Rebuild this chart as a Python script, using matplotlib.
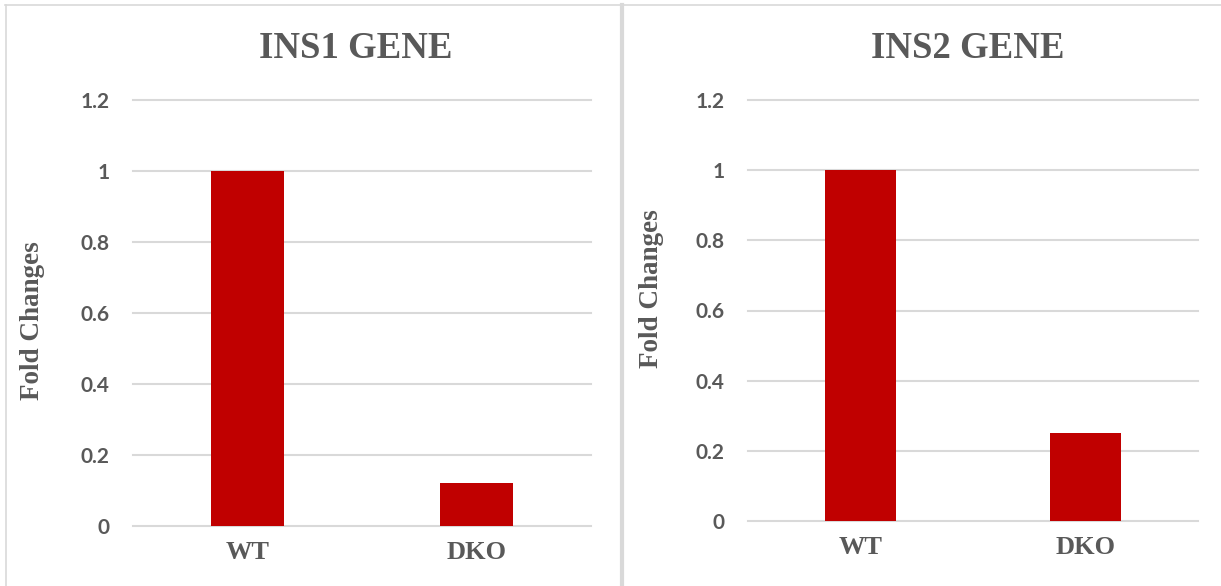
import matplotlib.pyplot as plt
from matplotlib.lines import Line2D

groups = ['WT', 'DKO']
ins1_fold = [1.0, 0.12]
ins2_fold = [1.0, 0.25]
titles = ['INS1 GENE', 'INS2 GENE']
yticks = [0, 0.2, 0.4, 0.6, 0.8, 1, 1.2]
ytick_labels = ['0', '0.2', '0.4', '0.6', '0.8', '1', '1.2']

bar_color = '#C00000'
grid_color = '#D9D9D9'
text_color = '#595959'
serif = ['Liberation Serif', 'DejaVu Serif']
sans = ['Lato', 'DejaVu Sans']

W, H = 1221, 586
fig = plt.figure(figsize=(W / 100, H / 100), dpi=100)


def fx(px):
    return px / W


def fy(py):
    return 1 - py / H


# panel frames
fig.add_artist(Line2D([fx(5), 1], [fy(4.5), fy(4.5)], color=grid_color, lw=1.2))
fig.add_artist(Line2D([fx(5.5), fx(5.5)], [fy(4.5), 0], color=grid_color, lw=1.2))
fig.add_artist(Line2D([fx(622), fx(622)], [fy(4.5), 0], color=grid_color, lw=3))

panels = [
    # left, top(1.2), right, bottom(0) in pixels, title x, y-label x/y
    (133, 100, 591, 526, ins1_fold, titles[0], 356, 33, 321),
    (748, 100, 1198, 521, ins2_fold, titles[1], 968, 652, 289),
]

for x0, y_top, x1, y_bot, vals, title, title_x, ylab_x, ylab_y in panels:
    ax = fig.add_axes([fx(x0), fy(y_bot), fx(x1 - x0), (y_bot - y_top) / H])
    pos = range(len(groups))
    ax.bar(pos, vals, width=0.315, color=bar_color, zorder=3)
    ax.set_xlim(-0.5, len(groups) - 0.5)
    ax.set_ylim(0, 1.2)
    ax.set_yticks(yticks)
    ax.set_yticklabels(ytick_labels, family=sans, fontweight='bold',
                       fontsize=15, color=text_color)
    ax.set_xticks(list(pos))
    ax.set_xticklabels(groups, family=serif, fontweight='bold',
                       fontsize=19, color=text_color)
    ax.tick_params(axis='both', length=0)
    ax.tick_params(axis='y', pad=17)
    ax.tick_params(axis='x', pad=11)
    ax.grid(axis='y', color=grid_color, lw=1.5, zorder=0)
    ax.set_axisbelow(True)
    for s in ax.spines.values():
        s.set_visible(False)
    ax.patch.set_alpha(0)
    for gl in ax.get_ygridlines():
        gl.set_clip_on(False)

    fig.text(fx(title_x), fy(48), title, ha='center', va='center',
             family=serif, fontweight='bold', fontsize=26.5, color=text_color)
    fig.text(fx(ylab_x), fy(ylab_y), 'Fold Changes', rotation=90,
             ha='center', va='center', family=serif, fontweight='bold',
             fontsize=19.5, color=text_color)

fig.savefig('out.png', dpi=100, facecolor='white')
